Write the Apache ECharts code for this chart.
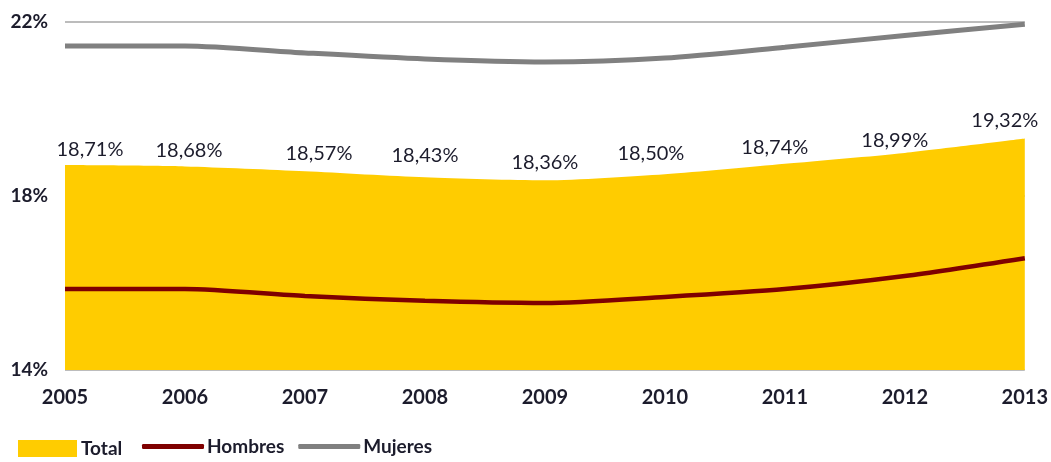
<!DOCTYPE html>
<html>
<head>
<meta charset="utf-8">
<script src="https://cdn.jsdelivr.net/npm/echarts@6/dist/echarts.min.js"></script>
<style>
html,body{margin:0;padding:0;background:#fff;}
#chart{width:1051px;height:462px;}
</style>
</head>
<body>
<div id="chart"></div>
<script>
const years = ['2005','2006','2007','2008','2009','2010','2011','2012','2013'];
const total = [18.71, 18.68, 18.57, 18.43, 18.36, 18.50, 18.74, 18.99, 19.32];
const hombres = [15.86, 15.86, 15.70, 15.59, 15.54, 15.68, 15.86, 16.16, 16.57];
const mujeres = [21.45, 21.45, 21.29, 21.15, 21.08, 21.17, 21.42, 21.69, 21.95];
const yTicks = [14, 18, 22];

const FONT = 'Lato, "Open Sans", sans-serif';
const TXT = '#1c1c2c';
const labelDx = [25, 4, 14, 0, 0, -14, -10, -10, -20];
const labelDy = [2, 2, 0, -4, 0, -3, 2, 6, 0];

const chart = echarts.init(document.getElementById('chart'));
chart.setOption({
  animation: false,
  backgroundColor: '#fff',
  grid: { left: 65, right: 23, top: 22, bottom: 92 },
  legend: [
    {
      data: [{ name: 'Total', icon: 'rect' }],
      left: 13, bottom: -1, itemWidth: 59, itemHeight: 17, itemGap: 10,
      textStyle: { fontFamily: FONT, fontSize: 19, fontWeight: 'bold', color: TXT, padding: [0,0,0,-1] }
    },
    {
      data: [{ name: 'Hombres', icon: 'roundRect' }, { name: 'Mujeres', icon: 'roundRect' }],
      left: 137, bottom: 1, itemWidth: 62, itemHeight: 5, itemGap: 14,
      textStyle: { fontFamily: FONT, fontSize: 19, fontWeight: 'bold', color: TXT, padding: [0,0,0,-2] }
    }
  ],
  xAxis: {
    type: 'category',
    data: years,
    boundaryGap: false,
    axisLine: { show: false },
    axisTick: { show: false },
    axisLabel: { fontFamily: FONT, fontSize: 20, fontWeight: 'bold', color: TXT, margin: 18 }
  },
  yAxis: {
    type: 'value',
    min: yTicks[0], max: yTicks[yTicks.length - 1], interval: 4,
    axisLine: { show: false },
    axisTick: { show: false },
    splitLine: { show: true, lineStyle: { color: '#a6a6a6', width: 1.5 } },
    axisLabel: { fontFamily: FONT, fontSize: 19, fontWeight: 'bold', color: TXT, margin: 17,
      formatter: v => v + '%' }
  },
  series: [
    {
      name: 'Total', type: 'line', smooth: 0.25, symbol: 'circle', symbolSize: 0, showSymbol: true,
      data: total.map((v, i) => ({
        value: v,
        label: { offset: [labelDx[i], labelDy[i]] }
      })),
      itemStyle: { color: '#FFCC00' },
      lineStyle: { width: 0, color: '#FFCC00' },
      areaStyle: { color: '#FFCC00', opacity: 1, origin: 'start' },
      label: {
        show: true, position: 'top', distance: 8,
        fontFamily: FONT, fontSize: 20, color: TXT,
        formatter: p => p.value.toFixed(2).replace('.', ',') + '%'
      },
      z: 1
    },
    {
      name: 'Hombres', type: 'line', smooth: 0.25, symbol: 'none',
      data: hombres,
      itemStyle: { color: '#7f0000' },
      lineStyle: { width: 4.5, color: '#7f0000' },
      z: 3
    },
    {
      name: 'Mujeres', type: 'line', smooth: 0.25, symbol: 'none',
      data: mujeres,
      itemStyle: { color: '#808080' },
      lineStyle: { width: 5, color: '#808080' },
      z: 3
    }
  ]
});
</script>
</body>
</html>
